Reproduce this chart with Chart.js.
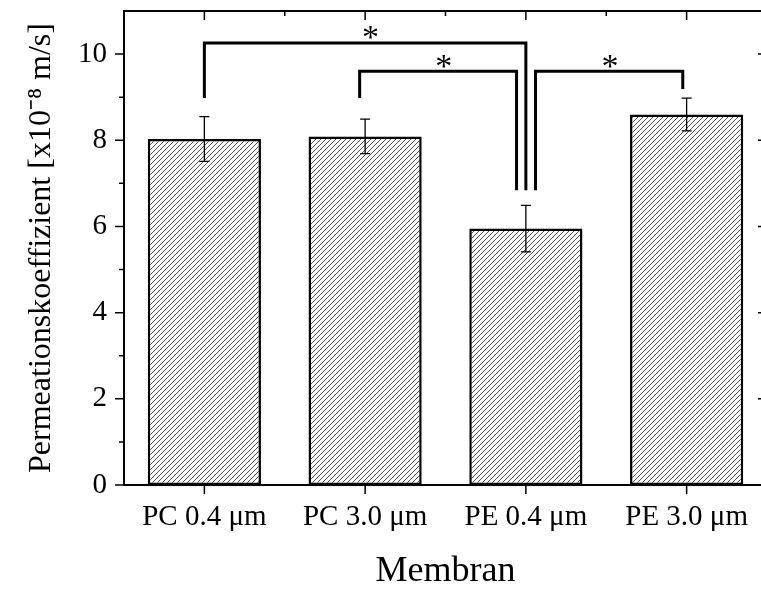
<!DOCTYPE html>
<html>
<head>
<meta charset="utf-8">
<script src="https://cdn.jsdelivr.net/npm/chart.js@4.4.0/dist/chart.umd.min.js"></script>
<style>
    html, body { margin: 0; padding: 0; background: #fff; overflow: hidden; }
</style>
</head>
<body>
<canvas id="chart" width="775" height="590"></canvas>
<script>
let membranes = ['PC 0.4 μm', 'PC 3.0 μm', 'PE 0.4 μm', 'PE 3.0 μm'];
let permeation = [8.03, 8.09, 5.95, 8.60];
let permeationErr = [0.52, 0.40, 0.54, 0.38];
let yMajorTicks = [0, 2, 4, 6, 8, 10];
let yMinorTicks = [1, 3, 5, 7, 9];

// significance brackets, x in category units, y in data units
let bracketLeftX = [0, 0.966, 2.06];
let bracketRightX = [2.0, 1.942, 2.976];
let bracketTopY = [10.26, 9.6, 9.6];
let bracketLeftEndY = [8.98, 8.98, 6.84];
let bracketRightEndY = [6.84, 6.84, 9.19];
let starX = [1.034, 1.489, 2.524];
let starY = [10.51, 9.84, 9.84];

const serif = 'Liberation Serif';

function makeHatch() {
    let c = document.createElement('canvas');
    c.width = 5;
    c.height = 5;
    let g = c.getContext('2d');
    g.fillStyle = '#fff';
    g.fillRect(0, 0, 5, 5);
    g.strokeStyle = '#555';
    g.lineWidth = 1;
    g.beginPath();
    g.moveTo(-1, 6); g.lineTo(6, -1);
    g.moveTo(-1, 1); g.lineTo(1, -1);
    g.moveTo(4, 6); g.lineTo(6, 4);
    g.stroke();
    return g.createPattern(c, 'repeat');
}

// no extra room for tick labels, the plot area is set by hand
function noPadding(scale) {
    scale.paddingTop = 0;
    scale.paddingBottom = 0;
    scale.paddingLeft = 0;
    scale.paddingRight = 0;
}

// error bars + brackets + stars
let annotations = {
    id: 'annotations',
    afterDatasetsDraw(chart) {
        let ctx = chart.ctx, x = chart.scales.x, y = chart.scales.y;
        let meta = chart.getDatasetMeta(0);
        ctx.save();
        ctx.strokeStyle = '#000';
        ctx.lineWidth = 1.3;
        meta.data.forEach((bar, i) => {
            let hi = y.getPixelForValue(permeation[i] + permeationErr[i]);
            let lo = y.getPixelForValue(permeation[i] - permeationErr[i]);
            ctx.beginPath();
            ctx.moveTo(bar.x, hi); ctx.lineTo(bar.x, lo);
            ctx.moveTo(bar.x - 5, hi); ctx.lineTo(bar.x + 5, hi);
            ctx.moveTo(bar.x - 5, lo); ctx.lineTo(bar.x + 5, lo);
            ctx.stroke();
        });

        ctx.lineWidth = 3;
        ctx.lineJoin = 'miter';
        for (let i = 0; i < bracketLeftX.length; i++) {
            let xl = x.getPixelForValue(bracketLeftX[i]), xr = x.getPixelForValue(bracketRightX[i]);
            ctx.beginPath();
            ctx.moveTo(xl, y.getPixelForValue(bracketLeftEndY[i]));
            ctx.lineTo(xl, y.getPixelForValue(bracketTopY[i]));
            ctx.lineTo(xr, y.getPixelForValue(bracketTopY[i]));
            ctx.lineTo(xr, y.getPixelForValue(bracketRightEndY[i]));
            ctx.stroke();
        }

        ctx.fillStyle = '#000';
        ctx.font = '34px "' + serif + '"';
        ctx.textAlign = 'center';
        ctx.textBaseline = 'middle';
        for (let i = 0; i < starX.length; i++) {
            // the asterisk glyph sits high, push it down to centre on the value
            ctx.fillText('*', x.getPixelForValue(starX[i]), y.getPixelForValue(starY[i]) + 7);
        }
        ctx.restore();
    }
};

// frame and tick marks on all four sides
let frame = {
    id: 'frame',
    afterDraw(chart) {
        let ctx = chart.ctx, a = chart.chartArea, x = chart.scales.x, y = chart.scales.y;
        ctx.save();
        ctx.strokeStyle = '#000';
        ctx.lineWidth = 2;
        ctx.strokeRect(a.left, a.top, a.right - a.left, a.bottom - a.top);
        ctx.lineWidth = 1.5;
        ctx.beginPath();
        yMajorTicks.forEach(v => {
            let py = y.getPixelForValue(v);
            ctx.moveTo(a.left - 9, py); ctx.lineTo(a.left, py);
            ctx.moveTo(a.right, py); ctx.lineTo(a.right - 9, py);
        });
        yMinorTicks.forEach(v => {
            let py = y.getPixelForValue(v);
            ctx.moveTo(a.left - 5, py); ctx.lineTo(a.left, py);
            ctx.moveTo(a.right, py); ctx.lineTo(a.right - 5, py);
        });
        membranes.forEach((m, i) => {
            let px = x.getPixelForValue(i);
            ctx.moveTo(px, a.bottom); ctx.lineTo(px, a.bottom + 9);
            ctx.moveTo(px, a.top); ctx.lineTo(px, a.top + 9);
            if (i > 0) {
                let mx = x.getPixelForValue(i - 0.5);
                ctx.moveTo(mx, a.top); ctx.lineTo(mx, a.top + 5);
            }
        });
        ctx.stroke();
        ctx.restore();
    }
};

let ctx = document.getElementById('chart').getContext('2d');
let chart = new Chart(ctx, {
    type: 'bar',
    data: {
        labels: membranes,
        datasets: [{
            data: permeation,
            backgroundColor: makeHatch(),
            borderColor: '#000',
            borderWidth: 2.5,
            borderSkipped: false,
            barPercentage: 0.704,
            categoryPercentage: 1
        }]
    },
    options: {
        responsive: false,
        animation: false,
        devicePixelRatio: 1,
        layout: { padding: { top: 11, right: 8, left: 0, bottom: 0 } },
        plugins: {
            legend: { display: false },
            tooltip: { enabled: false }
        },
        scales: {
            x: {
                grid: { display: false },
                border: { display: false },
                ticks: {
                    color: '#000',
                    padding: 7,
                    maxRotation: 0,
                    font: { family: serif, size: 29 }
                },
                title: {
                    display: true,
                    text: 'Membran',
                    color: '#000',
                    padding: 0,
                    font: { family: serif, size: 36, lineHeight: 1 }
                },
                afterFit: function (scale) {
                    scale.height = 105;
                    noPadding(scale);
                }
            },
            y: {
                min: 0,
                max: 11,
                grid: { display: false },
                border: { display: false },
                ticks: {
                    stepSize: 2,
                    includeBounds: false,
                    color: '#000',
                    padding: 9,
                    font: { family: serif, size: 29 }
                },
                title: {
                    display: true,
                    text: 'Permeationskoeffizient [x10⁻⁸ m/s]',
                    color: '#000',
                    padding: { top: 26, bottom: 0 },
                    font: { family: serif, size: 32, lineHeight: 1 }
                },
                afterFit: function (scale) {
                    scale.width = 124;
                    noPadding(scale);
                }
            }
        }
    },
    plugins: [annotations, frame]
});
</script>
</body>
</html>
